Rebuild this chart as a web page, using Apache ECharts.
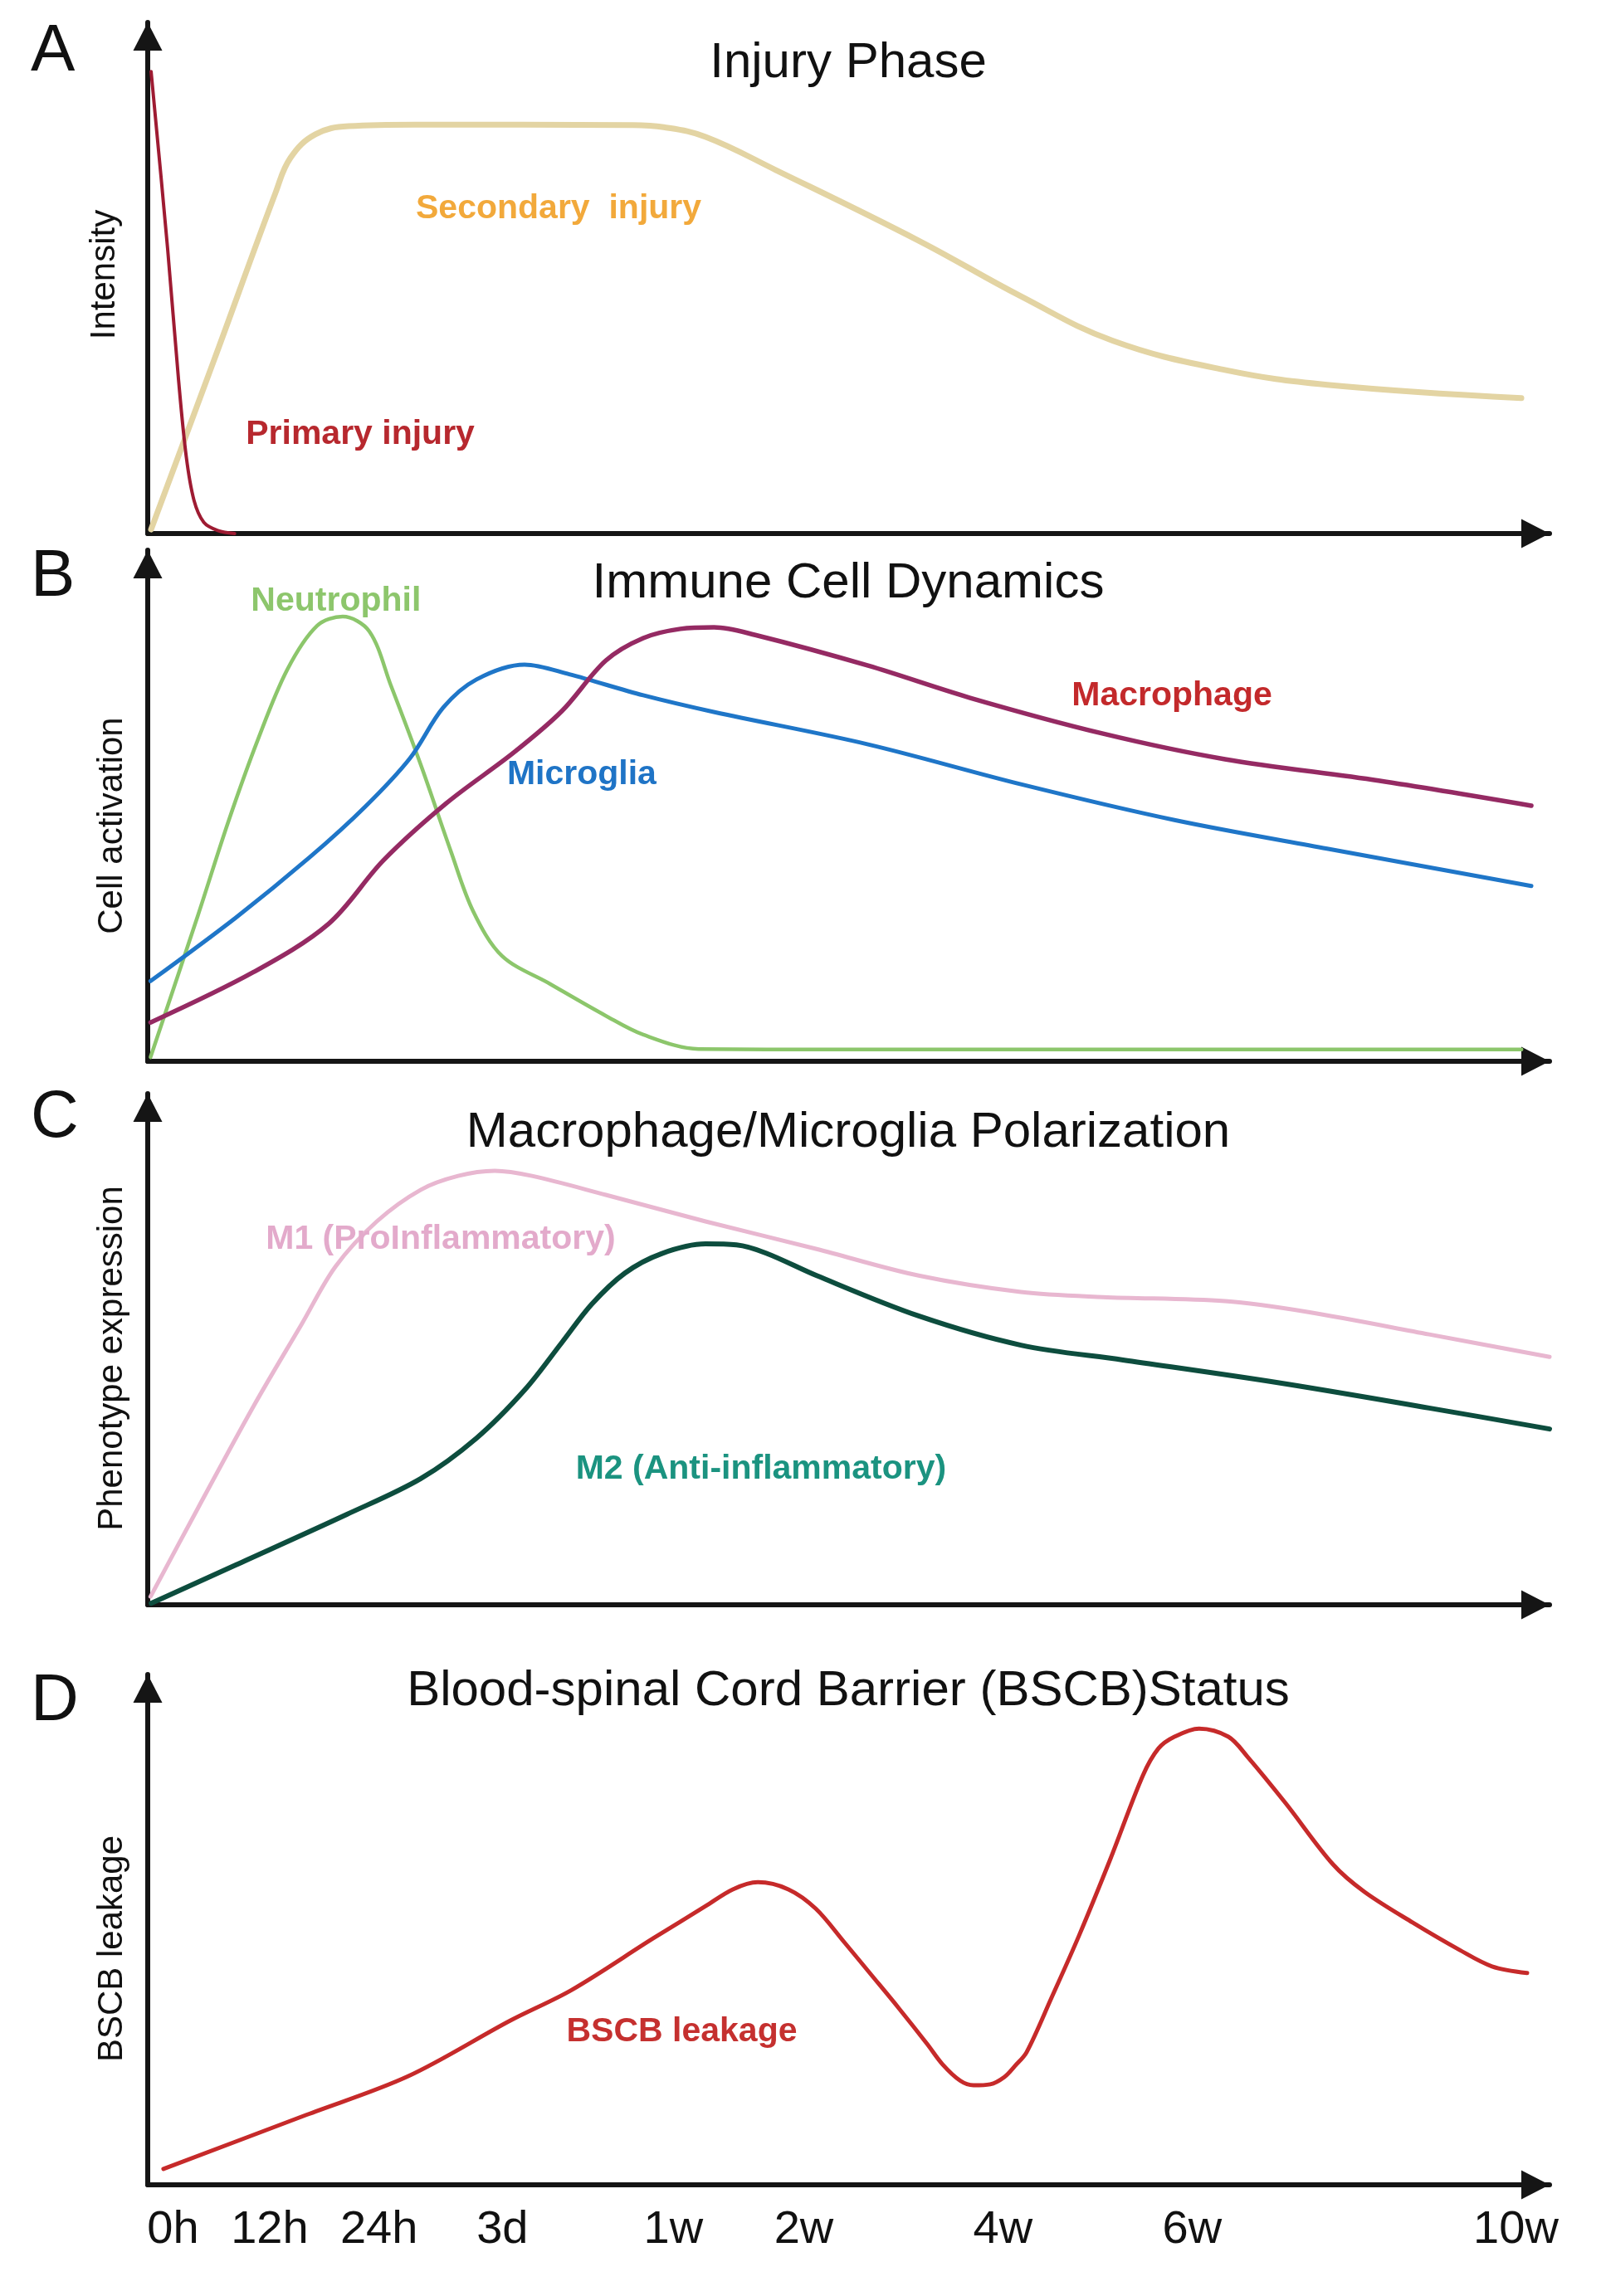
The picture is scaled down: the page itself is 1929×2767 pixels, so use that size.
<!DOCTYPE html>
<html><head><meta charset="utf-8">
<script src="https://cdn.jsdelivr.net/npm/echarts@6/dist/echarts.min.js"></script>
<style>html,body{margin:0;padding:0;background:#fff}#c{width:1929px;height:2767px}</style>
</head><body><div id="c"></div><script>
// ---- time axis (relative position units 0..100) ----
const tickPos = [1.8, 8.7, 16.5, 25.3, 37.5, 46.8, 61.0, 74.5, 97.6];
const tickLabels = ['0h', '12h', '24h', '3d', '1w', '2w', '4w', '6w', '10w'];

// ---- panel texts ----
const panelLetters = ['A', 'B', 'C', 'D'];
const panelTitles = ['Injury Phase', 'Immune Cell Dynamics', 'Macrophage/Microglia Polarization', 'Blood-spinal Cord Barrier (BSCB)Status'];
const yNames = ['Intensity', 'Cell activation', 'Phenotype expression', 'BSCB leakage'];

// ---- A: injury phase ----
const primaryInjury = [[0.24,90.4],[1.42,55.7],[2.2,30],[2.75,15],[3.3,6.5],[4.0,2.2],[5.0,0.6],[6.2,0]];
const secondaryInjury = [[0.24,0.8],[4.7,33.7],[9.12,66.7],[10.18,73.5],[11.96,78.1],[14.33,79.7],[19.06,80.0],[34.46,79.9],[36.8,79.5],[39.8,77.6],[44.82,71.1],[55.0,57.3],[62.3,46.4],[68.86,37.7],[76.85,32.0],[84.13,29.1],[97.99,26.5]];

// ---- B: immune cells ----
const neutrophil = [[0.2,0.8],[3.6,28.7],[5.74,46.8],[7.87,63.0],[9.95,76.6],[12.08,85.2],[13.91,87.0],[15.81,84.1],[17.35,73.5],[19.48,58.0],[21.61,41.2],[23.21,29.4],[25.28,20.6],[28.72,15.1],[32.68,8.9],[35.35,5.2],[39.3,2.4],[48,2.3],[98,2.3]];
const microglia = [[0.2,15.7],[6.28,28.1],[11.55,39.9],[15.51,49.8],[18.71,59.3],[21.08,69.2],[23.45,74.7],[26.88,77.6],[30.08,75.7],[35.35,71.6],[40.44,68.3],[51.39,62.0],[62.29,54.2],[73.24,47.2],[84.13,41.6],[98.7,34.3]];
const macrophage = [[0.2,7.6],[7.58,17.5],[12.9,26.9],[16.81,39.3],[21.31,50.5],[26.11,60.4],[29.54,68.5],[32.68,78.4],[35.35,82.8],[38.0,84.6],[40.4,84.9],[43.34,83.4],[51.39,77.4],[58.67,71.1],[68.15,64.1],[76.85,59.1],[87.8,54.9],[98.7,50.0]];

// ---- C: polarization ----
const m1 = [[0.2,1.6],[3.6,19.0],[7.58,39.0],[11.0,55.0],[13.4,66.2],[16.34,75.0],[19.48,81.2],[22.14,83.9],[24.75,84.9],[27.41,83.9],[32.68,80.2],[39.79,75.0],[47.72,69.6],[55.0,64.4],[62.29,61.2],[68.15,60.2],[76.85,59.4],[82.71,57.3],[91.41,52.9],[100,48.5]];
const m2 = [[0.24,0.3],[6.28,7.8],[14.21,17.7],[19.48,24.7],[23.45,32.6],[26.88,42.0],[29.54,51.3],[31.67,58.8],[34.04,64.9],[36.65,68.7],[39.79,70.6],[42.0,70.4],[44.11,68.8],[47.72,64.4],[55.0,56.5],[62.29,50.8],[69.57,47.9],[80.52,43.5],[91.41,38.5],[100,34.4]];

// ---- D: BSCB ----
const bscb = [[1.12,3.1],[11.31,13.7],[18.59,21.3],[25.87,32.2],[30.25,38.2],[36.06,48.3],[39.79,54.6],[41.74,57.9],[43.52,59.3],[45.7,57.9],[47.66,54.1],[49.67,47.6],[51.63,41.1],[53.58,34.6],[55.6,27.6],[56.7,23.6],[57.96,20.4],[58.91,19.5],[60.1,19.7],[61.1,21.1],[61.87,23.3],[62.7,26.0],[64.48,36.7],[66.43,48.8],[68.68,63.9],[70.99,80.2],[72.1,85.5],[73.24,87.8],[75.0,89.4],[77.09,87.8],[78.45,83.9],[81.17,74.8],[84.55,62.8],[86.8,57.4],[90.23,51.4],[93.6,46.0],[95.9,42.8],[98.4,41.5]];

// ---- curve labels ----
const curveLabelText = ['Secondary  injury', 'Primary injury', 'Neutrophil', 'Microglia', 'Macrophage', 'M1 (ProInflammatory)', 'M2 (Anti-inflammatory)', 'BSCB leakage'];
const curveLabelPos = [[29.31,63.6],[15.16,19.4],[13.43,90.0],[30.96,56.1],[73.06,71.5],[20.9,71.5],[43.75,26.5],[38.1,30.0]];

const FONT = 'Liberation Sans, Arial, Helvetica, sans-serif';
const gridTops = [27, 663, 1318, 2018];
const gridH = [616, 616, 616, 615];
const titleTops = [41, 668, 1330, 2003];
const letterTops = [18, 651, 1303, 2006];
const nameGaps = [31, 22, 22, 22];
const namePad = [[0,0,0,8],[0,48,0,0],[0,22,0,0],[0,46,0,0]];

const axisLine = {show: true, symbol: ['none', 'triangle'], symbolSize: [35, 34], symbolOffset: [0, -17], lineStyle: {color: '#151515', width: 6}};

const grids = [], xAxes = [], yAxes = [], titles = [];
for (let i = 0; i < 4; i++) {
  grids.push({left: 178, right: 62, top: gridTops[i], height: gridH[i]});
  xAxes.push({
    type: 'value', gridIndex: i, min: 0, max: 100,
    axisLine: axisLine, axisTick: {show: false}, splitLine: {show: false},
    axisLabel: i === 3 ? {
      show: true, customValues: tickPos, margin: 27,
      fontSize: 56, fontFamily: FONT, color: '#111',
      formatter: v => { const k = tickPos.indexOf(v); return k >= 0 ? tickLabels[k] : ''; }
    } : {show: false}
  });
  yAxes.push({
    type: 'value', gridIndex: i, min: 0, max: 100,
    axisLine: axisLine, axisTick: {show: false}, splitLine: {show: false}, axisLabel: {show: false},
    name: yNames[i], nameLocation: 'middle', nameRotate: 90, nameGap: nameGaps[i],
    nameTextStyle: {fontSize: 42, fontFamily: FONT, color: '#111', padding: namePad[i]}
  });
  titles.push({text: panelTitles[i], left: 1017, top: titleTops[i], textAlign: 'center',
    textStyle: {fontSize: 60, fontWeight: 'normal', fontFamily: FONT, color: '#111'}});
  titles.push({text: panelLetters[i], left: 32, top: letterTops[i],
    textStyle: {fontSize: 80, fontWeight: 'normal', fontFamily: FONT, color: '#111'}});
}

function lbl(k, color) {
  return {
    symbol: 'circle', symbolSize: 0, silent: true,
    label: {show: true, position: 'inside', formatter: curveLabelText[k], fontSize: 41, fontWeight: 'bold', fontFamily: FONT, color: color},
    data: [{coord: curveLabelPos[k]}]
  };
}
function line(name, data, gi, color, width, smooth, mp) {
  const s = {name, type: 'line', data, xAxisIndex: gi, yAxisIndex: gi, showSymbol: false, smooth: smooth,
    lineStyle: {color, width, cap: 'round', join: 'round'}, clip: false, z: 2};
  if (mp) s.markPoint = mp;
  return s;
}

const series = [
  line('Secondary injury', secondaryInjury, 0, '#E3D4A3', 7, 0.4, lbl(0, '#F2A93B')),
  line('Primary injury', primaryInjury, 0, '#9E1B32', 4, 0.33, lbl(1, '#B7282E')),
  line('Neutrophil', neutrophil, 1, '#8CC66B', 4.5, 0.33, lbl(2, '#8DC66C')),
  line('Microglia', microglia, 1, '#1F76C8', 5, 0.33, lbl(3, '#1F74C6')),
  line('Macrophage', macrophage, 1, '#952A63', 5.5, 0.33, lbl(4, '#C3292B')),
  line('M1', m1, 2, '#E8B7D0', 5, 0.33, lbl(5, '#E3AACB')),
  line('M2', m2, 2, '#0D4D3E', 6, 0.33, lbl(6, '#1B9380')),
  line('BSCB leakage', bscb, 3, '#C62A2A', 5, 0.33, lbl(7, '#C5302F'))
];

const chart = echarts.init(document.getElementById('c'), null, {renderer: 'canvas'});
chart.setOption({
  backgroundColor: '#ffffff', animation: false,
  title: titles, grid: grids, xAxis: xAxes, yAxis: yAxes, series: series
});
</script></body></html>
